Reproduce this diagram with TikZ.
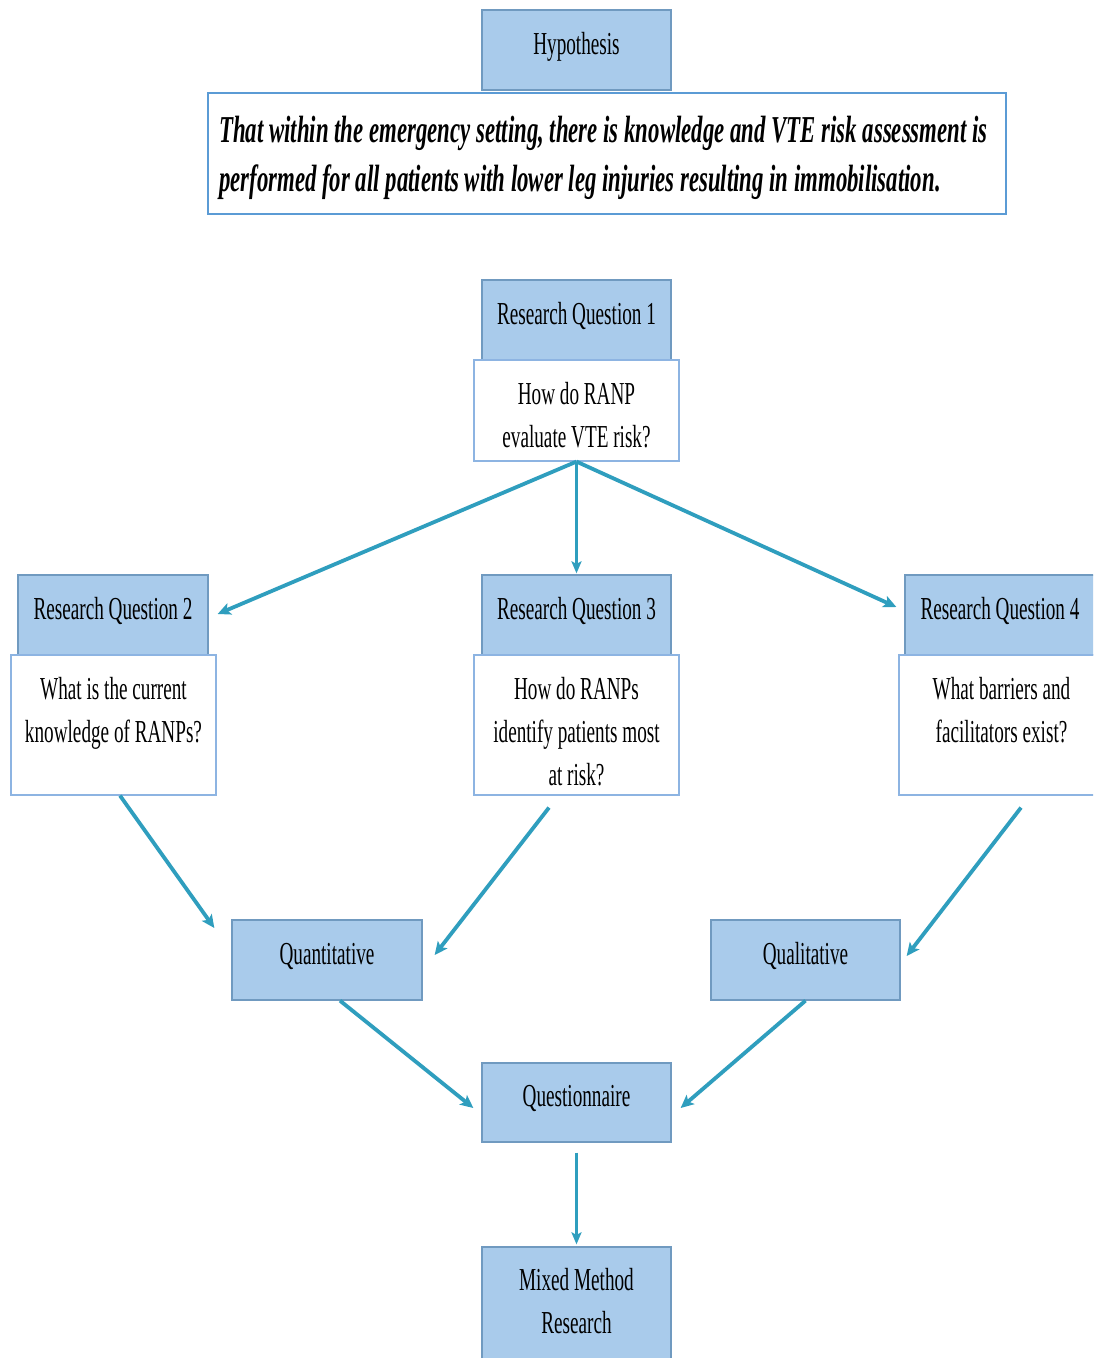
\documentclass[tikz,border=0pt]{standalone}
\usepackage{fontspec}
\setmainfont{Liberation Serif}[FakeStretch=0.6]
\usetikzlibrary{arrows.meta,calc}

\definecolor{boxfill}{RGB}{169,203,235}
\definecolor{boxline}{RGB}{112,154,192}
\definecolor{qline}{RGB}{141,180,226}
\definecolor{hypline}{RGB}{91,155,213}
\definecolor{arrowc}{RGB}{47,158,190}

% question text sitting at the top of a white panel
\newcommand\paneltext[2]{\parbox[c][#1][t]{205pt}{\centering\rule{0pt}{44pt}#2}}

\begin{document}
\begin{tikzpicture}[x=1pt,y=-1pt,
  bluebox/.style={draw=boxline,line width=1.3pt,fill=boxfill,inner sep=0pt,
    minimum width=189pt,minimum height=80pt,align=center,
    font=\fontsize{32}{43}\selectfont},
  onebox/.style={bluebox,text height=22pt,text depth=14pt},
  panel/.style={draw=qline,line width=1.2pt,fill=white,inner sep=0pt,
    font=\fontsize{32}{43}\selectfont},
  conn/.style={draw=arrowc,line width=3.8pt,
    -{Stealth[length=13pt,width=12pt,inset=3pt]}},
  vconn/.style={draw=arrowc,line width=2.6pt,
    -{Stealth[length=12pt,width=10pt,inset=2.5pt]}}]
\clip (0,0) rectangle (1093,1358);
\fill[white] (0,0) rectangle (1093,1358);

% hypothesis
\node[onebox] (hyp) at (576.5,50) {Hypothesis};
\node[draw=hypline,line width=1.4pt,fill=white,inner sep=0pt,
  minimum width=798pt,minimum height=121pt] (stmt) at (607,153.5) {};
\node[anchor=north west,inner sep=0pt,align=left,
  font=\fontsize{38}{49}\selectfont\bfseries\itshape] (stmtt) at (219,116)
  {That within the emergency setting, there is knowledge and VTE risk assessment is\\
   performed for all patients with lower leg injuries resulting in immobilisation.};

% research questions
\node[onebox] (rq1b) at (576.5,320) {Research Question 1};
\node[panel] (rq1w) at (576.5,410.5)
  {\paneltext{101pt}{How do RANP\\evaluate VTE risk?}};

\node[onebox,minimum width=190pt] (rq2b) at (113,615) {Research Question 2};
\node[panel] (rq2w) at (113.5,725)
  {\paneltext{140pt}{What is the current\\knowledge of RANPs?}};

\node[onebox] (rq3b) at (576.5,615) {Research Question 3};
\node[panel] (rq3w) at (576.5,725)
  {\paneltext{140pt}{How do RANPs\\identify patients most\\at risk?}};

\node[onebox,minimum width=190pt] (rq4b) at (1000,615) {Research Question 4};
\node[panel] (rq4w) at (1001.5,725)
  {\paneltext{140pt}{What barriers and\\facilitators exist?}};

% methods
\node[onebox,minimum width=190pt] (quant) at (327,960) {Quantitative};
\node[onebox] (qual) at (805.5,960) {Qualitative};
\node[onebox,minimum height=79pt] (quest) at (576.5,1102.5) {Questionnaire};
\node[bluebox,minimum height=116pt] (mixed) at (576.5,1305)
  {\parbox{189pt}{\centering Mixed Method\\Research\par\vspace*{8pt}}};

% connectors
\draw[conn] (rq1w.south) -- ($(rq2b.east)+(9,-1)$);
\draw[vconn] (rq1w.south) -- ($(rq3b.north)+(0,-1)$);
\draw[conn] (rq1w.south) -- ($(rq4b.west)+(-8,-8)$);

\draw[conn] ($(rq2w.south)+(6.5,0)$) -- ($(quant.west)+(-17,-32)$);
\draw[conn] ($(rq3w.south)+(-27.5,12)$) -- ($(quant.east)+(12,-5)$);
\draw[conn] ($(rq4w.south)+(19.5,12)$) -- ($(qual.east)+(6,-4)$);

\draw[conn] ($(quant.south)+(13,0)$) -- ($(quest.west)+(-8,5.5)$);
\draw[conn] (qual.south) -- ($(quest.east)+(9,5.5)$);
\draw[vconn] ($(quest.south)+(0,10)$) -- ($(mixed.north)+(0,-2)$);
\end{tikzpicture}
\end{document}
